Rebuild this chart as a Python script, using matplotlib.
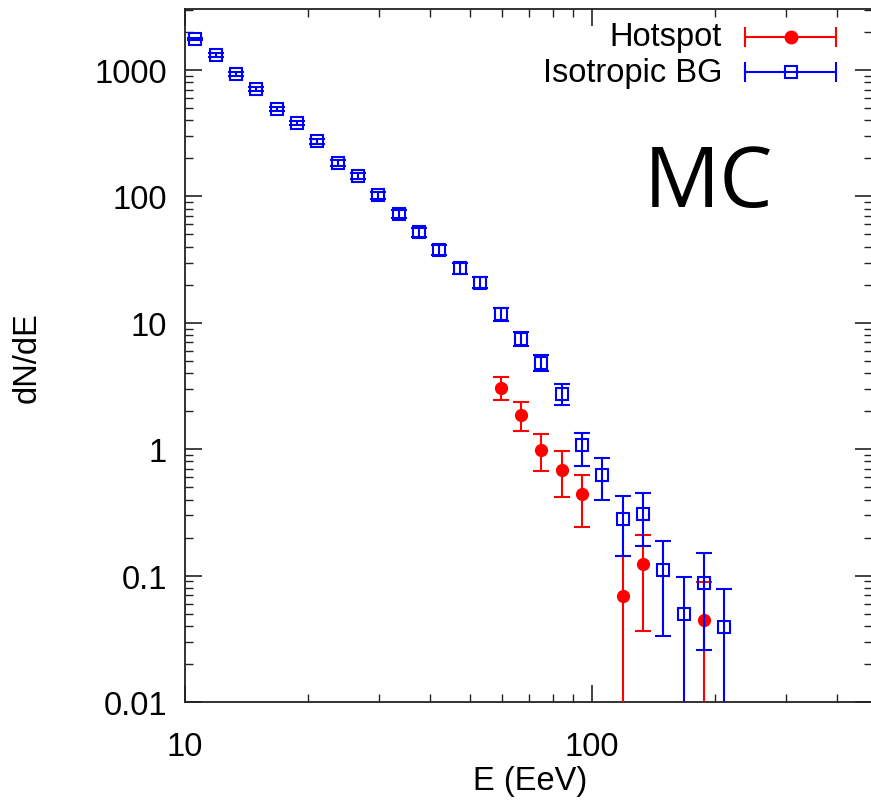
import numpy as np
import matplotlib
matplotlib.use("Agg")
import matplotlib.pyplot as plt
from matplotlib.ticker import LogLocator, FuncFormatter, NullFormatter

plt.rcParams["font.family"] = ["Liberation Sans", "DejaVu Sans"]

# bin centres: log10(E) = 1.025 + 0.05*k
log_e = [1.025, 1.075, 1.125, 1.175, 1.225, 1.275, 1.325, 1.375, 1.425,
         1.475, 1.525, 1.575, 1.625, 1.675, 1.725, 1.775, 1.825, 1.875,
         1.925, 1.975, 2.025, 2.075, 2.125, 2.175, 2.225, 2.275, 2.325]

# isotropic background
bg_y = [1758, 1315, 930, 708, 491, 381, 274, 183, 146, 102, 73, 52, 37.8,
        27.0, 20.8, 11.7, 7.5, 4.83, 2.75, 1.07, 0.63, 0.28, 0.31, 0.111,
        0.050, 0.087, 0.039]
bg_hi = [1803, 1353, 960, 733, 510, 397, 287, 193, 154.5, 108.8, 78.5, 56.3,
         41.2, 29.6, 22.9, 13.1, 8.51, 5.56, 3.30, 1.34, 0.85, 0.43, 0.45,
         0.187, 0.098, 0.150, 0.078]
bg_lo = [1713, 1277, 900, 683, 472, 365, 261, 173, 137.5, 95.2, 67.5, 47.7,
         34.4, 24.4, 18.7, 10.3, 6.52, 4.16, 2.24, 0.74, 0.40, 0.142, 0.173,
         0.033, 0.0, 0.026, 0.0]

# hotspot
hs_idx = [15, 16, 17, 18, 19, 21, 22, 25]
hs_y = [3.07, 1.87, 0.99, 0.69, 0.44, 0.069, 0.124, 0.0446]
hs_hi = [3.71, 2.35, 1.31, 0.96, 0.625, 0.142, 0.211, 0.0885]
hs_lo = [2.45, 1.39, 0.67, 0.42, 0.242, 0.0, 0.0366, 0.0]

RED = "#ff0000"
BLUE = "#0000ff"
FS = 23.5


def to_err(y, lo, hi):
    y = np.asarray(y, float)
    lo = np.asarray(lo, float)
    lo = np.where(lo <= 0, 1e-6, lo)
    return np.vstack([y - lo, np.asarray(hi, float) - y])


fig = plt.figure(figsize=(8.71, 8.04), dpi=100)
ax = fig.add_axes([185 / 871, 101 / 804, 687 / 871, 693 / 804])

e_all = 10 ** np.asarray(log_e)
e_hs = e_all[hs_idx]

ax.errorbar(e_hs, hs_y, yerr=to_err(hs_y, hs_lo, hs_hi), fmt="o", color=RED,
            ms=8.5, mec=RED, mfc=RED, elinewidth=1.5, capsize=6, capthick=1.5,
            zorder=3)
ax.errorbar(e_all, bg_y, yerr=to_err(bg_y, bg_lo, bg_hi), fmt="s", color=BLUE,
            ms=9, mec=BLUE, mfc="none", mew=1.5, elinewidth=1.5, capsize=6,
            capthick=1.5, zorder=4)

ax.set_xscale("log")
ax.set_yscale("log")
ax.set_xlim(10, 487)
ax.set_ylim(0.01, 3040)

ax.xaxis.set_major_locator(LogLocator(base=10, numticks=10))
ax.yaxis.set_major_locator(LogLocator(base=10, numticks=10))
ax.xaxis.set_minor_locator(LogLocator(base=10, subs=np.arange(2, 10), numticks=20))
ax.yaxis.set_minor_locator(LogLocator(base=10, subs=np.arange(2, 10), numticks=20))
fmt = FuncFormatter(lambda v, p: f"{v:g}")
ax.xaxis.set_major_formatter(fmt)
ax.yaxis.set_major_formatter(fmt)
ax.xaxis.set_minor_formatter(NullFormatter())
ax.yaxis.set_minor_formatter(NullFormatter())

ax.tick_params(which="both", direction="in", top=True, right=True,
               colors="#222222", labelcolor="black", labelsize=FS)
ax.tick_params(which="major", length=12, width=1.2)
ax.tick_params(which="minor", length=6, width=1.0)
ax.tick_params(axis="y", pad=13)
ax.tick_params(axis="x", pad=21)
for s in ax.spines.values():
    s.set_linewidth(1.3)
    s.set_color("#222222")

ax.set_xlabel("E (EeV)", fontsize=FS)
ax.set_ylabel("dN/dE", fontsize=FS)
ax.xaxis.label.set_va("center")
ax.yaxis.label.set_va("center")
ax.xaxis.set_label_coords((530 - 185) / 687, (703 - 782) / 693)
ax.yaxis.set_label_coords((27 - 185) / 687, (703 - 358) / 693)

fig.text(644 / 871, 1 - 207 / 804, "MC", family=["Open Sans", "DejaVu Sans"],
         fontsize=61, ha="left", va="baseline")

# legend, gnuplot style
tr = ax.transAxes
leg = [("Hotspot", RED, "o", RED, 0.9596),
       ("Isotropic BG", BLUE, "s", "none", 0.909)]
for label, col, mk, face, yy in leg:
    ax.text(0.7817, yy, label, transform=tr, ha="right", va="center",
            fontsize=FS)
    ax.plot([0.815, 0.948], [yy, yy], color=col, lw=1.5, transform=tr,
            clip_on=False)
    ax.plot([0.815, 0.948], [yy, yy], ls="none", marker="|", ms=14, mew=1.5,
            color=col, transform=tr, clip_on=False)
    ax.plot([0.8817], [yy], ls="none", marker=mk,
            ms=8.5 if mk == "o" else 9, mfc=face, mec=col, mew=1.5,
            transform=tr, clip_on=False)

fig.savefig("out.png", dpi=100)
